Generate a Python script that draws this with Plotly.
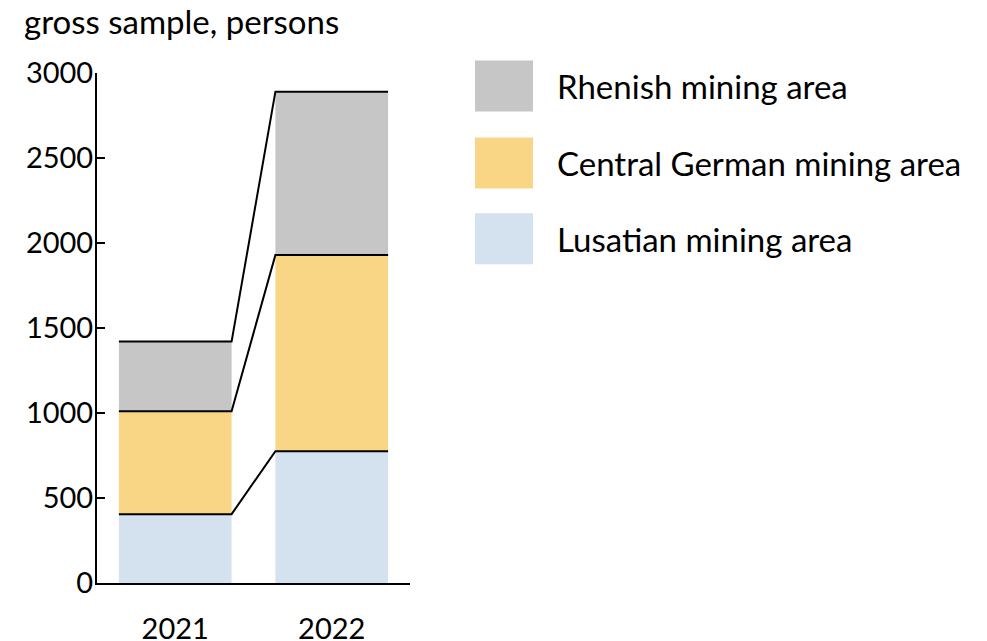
import plotly.graph_objects as go

# ---- data ----
years = ["2021", "2022"]
lusatian = [405, 775]
central = [605, 1155]
rhenish = [410, 960]
series_names = ["Lusatian mining area", "Central German mining area", "Rhenish mining area"]
y_ticks = [0, 500, 1000, 1500, 2000, 2500, 3000]
y_title = "gross sample, persons"

# ---- styles ----
colors = ["#d4e1ee", "#f8d686", "#c6c6c6"]
FONT = "Lato"
FS_TICK = 29
FS_TEXT = 33
BAR_W = 0.72

series = [lusatian, central, rhenish]
xpos = list(range(len(years)))

fig = go.Figure()
cum = [0] * len(years)
tops = []
for name, vals, col in zip(series_names, series, colors):
    fig.add_trace(go.Bar(x=xpos, y=vals, base=cum[:], width=BAR_W, name=name,
                         marker=dict(color=col, line=dict(width=0)),
                         showlegend=False, hoverinfo="skip"))
    cum = [c + v for c, v in zip(cum, vals)]
    tops.append(cum[:])

# connector lines along top of each segment
for t in tops:
    lx, ly = [], []
    for i, v in enumerate(t):
        lx += [xpos[i] - BAR_W / 2, xpos[i] + BAR_W / 2]
        ly += [v, v]
    fig.add_trace(go.Scatter(x=lx, y=ly, mode="lines", line=dict(color="black", width=2),
                             showlegend=False, hoverinfo="skip"))

# page offset (default body margin) compensation
OFF = 8
W, H = 987 - OFF, 641 - OFF
# plot-area geometry in figure pixels
L, R, T, B = 97 - OFF, 410 - OFF, 72.5 - OFF, 583 - OFF
PW, PH = R - L, B - T

def px(x):
    return (x - OFF - L) / PW

def py(y):
    return (B - (y - OFF)) / PH

# legend drawn as swatches + text (top to bottom: Rhenish, Central, Lusatian)
leg_y = [85.5, 162.5, 238.5]
for k, idx in enumerate([2, 1, 0]):
    cy = leg_y[k]
    fig.add_shape(type="rect", xref="paper", yref="paper",
                  x0=px(475), x1=px(533), y0=py(cy + 25.5), y1=py(cy - 25.5),
                  fillcolor=colors[idx], line=dict(width=0))
    fig.add_annotation(xref="paper", yref="paper", x=px(555), y=py(cy),
                       text=series_names[idx], showarrow=False, xanchor="left", yanchor="middle",
                       font=dict(family=FONT, size=FS_TEXT, color="black"))

fig.add_annotation(xref="paper", yref="paper", x=px(22), y=py(20),
                   text=y_title, showarrow=False, xanchor="left", yanchor="middle",
                   font=dict(family=FONT, size=FS_TEXT, color="black"))

fig.update_layout(
    width=W, height=H,
    margin=dict(l=L, r=W - R, t=T, b=H - B, autoexpand=False),
    paper_bgcolor="white", plot_bgcolor="white",
    barmode="overlay",
    font=dict(family=FONT, size=FS_TICK, color="black"),
    xaxis=dict(range=[-0.5, 1.5], tickvals=xpos, ticktext=years, showline=True,
               linecolor="black", linewidth=2, ticks="", showgrid=False, zeroline=False,
               ticklabelstandoff=19, automargin=False, fixedrange=True),
    yaxis=dict(range=[0, 3000], tickvals=y_ticks, showline=True, linecolor="black",
               linewidth=2, ticks="inside", ticklen=8, tickwidth=1.5, tickcolor="black",
               showgrid=False, zeroline=False, ticklabelstandoff=-4, automargin=False,
               fixedrange=True),
)

fig.write_html("out.html")
